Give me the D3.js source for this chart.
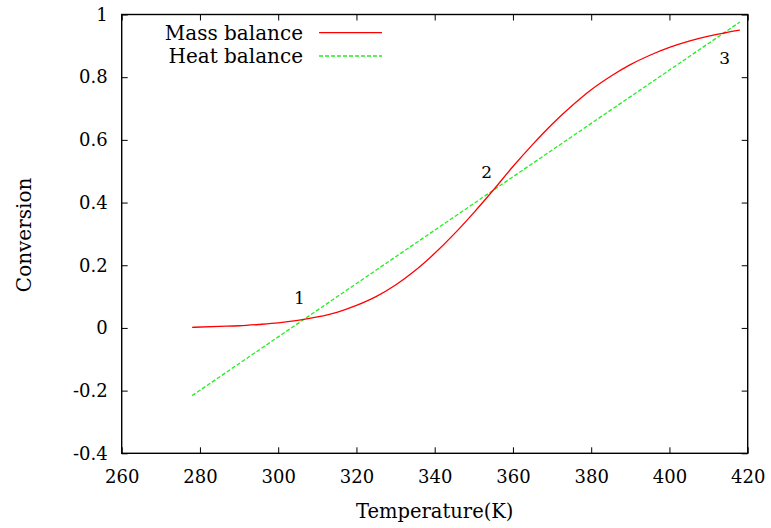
<!DOCTYPE html>
<html>
<head>
<meta charset="utf-8">
<script src="https://cdn.jsdelivr.net/npm/d3@7"></script>
<style>
  html, body { margin: 0; padding: 0; background: #fff; }
  svg { display: block; }
  text { font-family: "DejaVu Serif", "Liberation Serif", serif; fill: #000; }
</style>
</head>
<body>
<svg id="chart" width="771" height="528"></svg>
<script>
// ---- data ----
const massT = [278, 285, 290, 295, 300, 305, 310, 315, 320, 325, 330, 335, 340, 345, 350, 355, 360, 365, 370, 375, 380, 385, 390, 395, 400, 405, 410, 414, 418];
const massX = [0.002, 0.005, 0.007, 0.011, 0.016, 0.024, 0.035, 0.050, 0.072, 0.100, 0.137, 0.183, 0.238, 0.300, 0.368, 0.440, 0.515, 0.585, 0.650, 0.708, 0.760, 0.803, 0.840, 0.870, 0.895, 0.915, 0.931, 0.941, 0.950];
const heatT = [278, 418];
const heatX = [-0.216, 0.976];
const seriesNames = ["Mass balance", "Heat balance"];
const xTicks = [260, 280, 300, 320, 340, 360, 380, 400, 420];
const yTicks = [-0.4, -0.2, 0, 0.2, 0.4, 0.6, 0.8, 1];
const yTickLabels = ["-0.4", "-0.2", "0", "0.2", "0.4", "0.6", "0.8", "1"];
const pointLabels = ["1", "2", "3"];

// ---- layout ----
const pLeft = 121.7, pRight = 747.7, pTop = 14.5, pBottom = 453.3;
const svg = d3.select("#chart");
const x = d3.scaleLinear().domain([260, 420]).range([pLeft, pRight]);
const y = d3.scaleLinear().domain([-0.4, 1]).range([pBottom, pTop]);

const fmtY = (d, i) => yTickLabels[i];

// axes with inward ticks
const axB = svg.append("g").attr("transform", `translate(0,${pBottom})`)
  .call(d3.axisBottom(x).tickValues(xTicks).tickSize(-6).tickPadding(17).tickFormat(d3.format("d")));
const axL = svg.append("g").attr("transform", `translate(${pLeft},0)`)
  .call(d3.axisLeft(y).tickValues(yTicks).tickSize(-6).tickPadding(14).tickFormat(fmtY));
const axT = svg.append("g").attr("transform", `translate(0,${pTop})`)
  .call(d3.axisTop(x).tickValues(xTicks).tickSize(-6).tickFormat(""));
const axR = svg.append("g").attr("transform", `translate(${pRight},0)`)
  .call(d3.axisRight(y).tickValues(yTicks).tickSize(-6).tickFormat(""));

[axB, axL, axT, axR].forEach(g => {
  g.select(".domain").remove();
  g.selectAll(".tick line").attr("stroke", "#000").attr("stroke-width", 1);
  g.selectAll("text").attr("font-size", 18).attr("font-family", "DejaVu Serif").attr("fill", "#000");
});

// frame
svg.append("rect").attr("x", pLeft).attr("y", pTop)
  .attr("width", pRight - pLeft).attr("height", pBottom - pTop)
  .attr("fill", "none").attr("stroke", "#000").attr("stroke-width", 1.4);

// lines
const massData = massT.map((t, i) => [t, massX[i]]);
const heatData = heatT.map((t, i) => [t, heatX[i]]);
const line = d3.line().x(d => x(d[0])).y(d => y(d[1])).curve(d3.curveMonotoneX);

svg.append("path").datum(heatData).attr("d", line)
  .attr("fill", "none").attr("stroke", "#22ee22").attr("stroke-width", 1.3)
  .attr("stroke-dasharray", "4,2");
svg.append("path").datum(massData).attr("d", line)
  .attr("fill", "none").attr("stroke", "#ff0000").attr("stroke-width", 1.3);

// point labels
const labelPos = [[299.5, 297.5], [486.7, 172], [724.7, 58]];
svg.selectAll(".pl").data(pointLabels).enter().append("text")
  .attr("class", "pl")
  .attr("x", (d, i) => labelPos[i][0])
  .attr("y", (d, i) => labelPos[i][1])
  .attr("text-anchor", "middle").attr("dominant-baseline", "central")
  .attr("font-size", 17).text(d => d);

// legend
const legColors = ["#ff0000", "#22ee22"];
const legDash = [null, "4,2"];
const legY = [32.7, 56];
seriesNames.forEach((name, i) => {
  svg.append("text").attr("x", 303).attr("y", legY[i])
    .attr("text-anchor", "end").attr("dominant-baseline", "central")
    .attr("font-size", 20).text(name);
  svg.append("line").attr("x1", 319).attr("x2", 382).attr("y1", legY[i]).attr("y2", legY[i])
    .attr("stroke", legColors[i]).attr("stroke-width", 1.3)
    .attr("stroke-dasharray", legDash[i]);
});

// axis titles
svg.append("text").attr("x", (pLeft + pRight) / 2).attr("y", 511)
  .attr("text-anchor", "middle").attr("dominant-baseline", "central")
  .attr("font-size", 19.5).text("Temperature(K)");
svg.append("text")
  .attr("transform", `translate(24,${(pTop + pBottom) / 2 + 1}) rotate(-90)`)
  .attr("text-anchor", "middle").attr("dominant-baseline", "central")
  .attr("font-size", 20).text("Conversion");
</script>
</body>
</html>
